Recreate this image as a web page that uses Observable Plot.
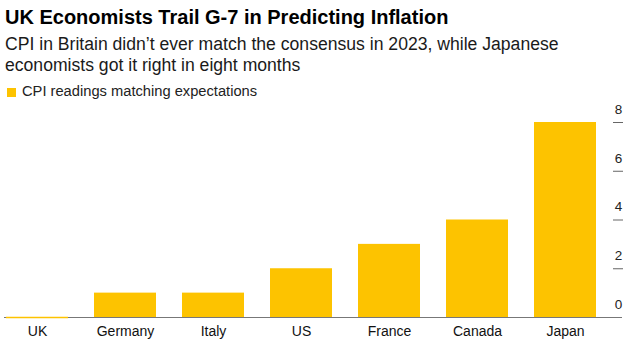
<!DOCTYPE html>
<html>
<head>
<meta charset="utf-8">
<script src="https://cdn.jsdelivr.net/npm/d3@7"></script>
<script src="https://cdn.jsdelivr.net/npm/@observablehq/plot@0.6"></script>
<style>
  html, body { margin: 0; padding: 0; background: #fff; }
  body { width: 637px; height: 355px; position: relative; overflow: hidden; font-family: "Liberation Sans", Arial, sans-serif; }
  #title { position: absolute; left: 5px; top: 5px; font-size: 20px; line-height: 24px; font-weight: bold; color: #000; white-space: nowrap; }
  #subtitle { position: absolute; left: 5px; top: 34.2px; font-size: 17.6px; line-height: 21px; color: #1a1a1a; white-space: nowrap; }
  #legend { position: absolute; left: 7px; top: 82px; font-size: 14.7px; line-height: 18px; color: #222; white-space: nowrap; display: flex; align-items: center; }
  #legend .sw { display: inline-block; width: 9px; height: 9px; margin-right: 6px; position: relative; top: 1px; }
  #chart { position: absolute; left: 0; top: 100px; }
</style>
</head>
<body>
<div id="title">UK Economists Trail G-7 in Predicting Inflation</div>
<div id="subtitle">CPI in Britain didn’t ever match the consensus in 2023, while Japanese<br>economists got it right in eight months</div>
<div id="legend"><span class="sw"></span><span>CPI readings matching expectations</span></div>
<div id="chart"></div>
<script>
const countries = ["UK", "Germany", "Italy", "US", "France", "Canada", "Japan"];
const readings = [0, 1, 1, 2, 3, 4, 8];
const yTicks = [0, 2, 4, 6, 8];
const seriesName = "CPI readings matching expectations";
const barColor = "#fdc300";

document.querySelector("#legend .sw").style.background = barColor;

const data = countries.map((c, i) => ({country: c, value: readings[i]}));

const chart = Plot.plot({
  width: 637,
  height: 255,
  marginTop: 22,
  marginBottom: 38,
  marginLeft: 4,
  marginRight: 25,
  style: {fontFamily: "'Liberation Sans', Arial, sans-serif", background: "#fff"},
  x: {domain: countries, paddingInner: 0.3, paddingOuter: 0, insetLeft: 1.4, insetRight: 15, label: null},
  y: {domain: [0, 8], label: null},
  marks: [
    Plot.barY(data, {x: "country", y: "value", fill: barColor}),
    Plot.ruleY([0], {stroke: "#777", strokeWidth: 1, insetRight: -10}),
    Plot.tickY(data.filter(d => d.value === 0), {x: "country", y: "value", stroke: barColor, strokeWidth: 1.5}),
    Plot.axisX({tickSize: 0, tickPadding: 9, fontSize: 14, fill: "#111", label: null}),
    Plot.axisY({anchor: "right", ticks: yTicks.filter(t => t !== 0), tickSize: 10, stroke: "#666", tickFormat: () => "", label: null}),
    Plot.axisY({anchor: "right", ticks: yTicks, tickSize: 0, tickPadding: 6, textAnchor: "middle", dy: -13, fontSize: 13.5, fill: "#222", label: null})
  ]
});
document.getElementById("chart").appendChild(chart);
</script>
</body>
</html>
